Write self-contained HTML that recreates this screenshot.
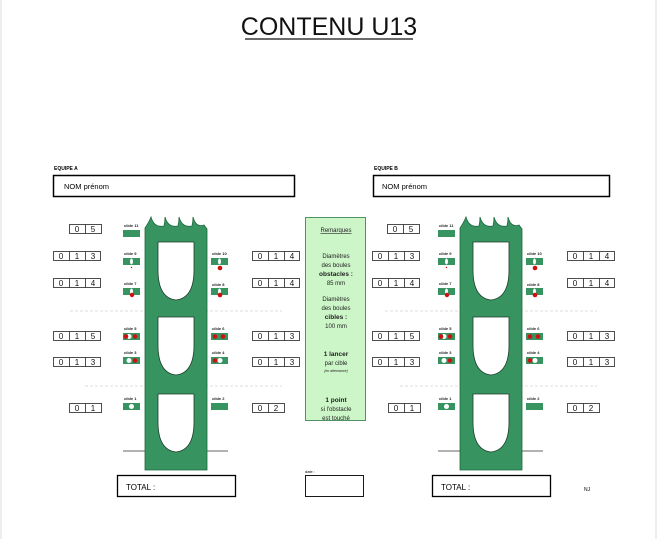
<!DOCTYPE html>
<html><head><meta charset="utf-8"><style>
html,body{margin:0;padding:0;background:#fff;}
svg{display:block;font-family:"Liberation Sans",sans-serif;}
</style></head><body>
<svg width="658" height="539" viewBox="0 0 658 539" xmlns="http://www.w3.org/2000/svg">
<rect x="0" y="0" width="658" height="539" fill="#fff"/>
<line x1="1" y1="0" x2="1" y2="539" stroke="#ddd"/>
<line x1="656" y1="0" x2="656" y2="539" stroke="#ddd"/>
<text x="329" y="35" font-size="25" text-anchor="middle" fill="#111">CONTENU U13</text>
<line x1="245" y1="39" x2="413" y2="39" stroke="#111" stroke-width="1.3"/>

<defs>
<g id="side">
  <line x1="70" y1="311" x2="282" y2="311" stroke="#bbb" stroke-dasharray="3,2" stroke-width="0.6"/>
  <line x1="85" y1="386" x2="282" y2="386" stroke="#bbb" stroke-dasharray="3,2" stroke-width="0.6"/>
  <line x1="123" y1="451" x2="145" y2="451" stroke="#333" stroke-width="0.7"/>
  <line x1="207" y1="451" x2="228" y2="451" stroke="#333" stroke-width="0.7"/>
  <path d="M145,228 Q149,222 151,217 Q154,228 164,226 Q165,222 165,217 Q168,228 178,226 Q179,222 179,217 Q182,228 192,226 Q193,222 193,217 Q196,228 204,225 L207,229 L207,470 L145,470 Z" fill="#379461" stroke="#1d6a3e" stroke-width="0.8"/>
  <path d="M158,242 L194,242 L194,270 Q194,298 176,300 Q158,298 158,270 Z" fill="#fff" stroke="#1d3d2a" stroke-width="0.8"/>
  <path d="M158,317 L194,317 L194,345 Q194,373 176,375 Q158,373 158,345 Z" fill="#fff" stroke="#1d3d2a" stroke-width="0.8"/>
  <path d="M158,394 L194,394 L194,422 Q194,450 176,452 Q158,450 158,422 Z" fill="#fff" stroke="#1d3d2a" stroke-width="0.8"/>
  <g font-size="4" font-weight="bold" fill="#222">
    <text x="124" y="227">cible 11</text>
    <text x="124" y="255">cible 9</text>
    <text x="124" y="285">cible 7</text>
    <text x="124" y="330">cible 5</text>
    <text x="124" y="354">cible 3</text>
    <text x="124" y="400">cible 1</text>
    <text x="212" y="255">cible 10</text>
    <text x="212" y="286">cible 8</text>
    <text x="212" y="330">cible 6</text>
    <text x="212" y="354">cible 4</text>
    <text x="212" y="400">cible 2</text>
  </g>
  <g fill="#379461">
    <rect x="123" y="230" width="17" height="7"/>
    <rect x="123" y="258" width="17" height="7"/>
    <rect x="123" y="288" width="17" height="7"/>
    <rect x="123" y="333" width="17" height="7"/>
    <rect x="123" y="357" width="17" height="7"/>
    <rect x="123" y="403" width="17" height="7"/>
    <rect x="211" y="258" width="17" height="7"/>
    <rect x="211" y="288" width="17" height="7"/>
    <rect x="211" y="333" width="17" height="7"/>
    <rect x="211" y="357" width="17" height="7"/>
    <rect x="211" y="403" width="17" height="7"/>
  </g>
  <g fill="#fff">
    <ellipse cx="131.5" cy="261.5" rx="1.5" ry="3"/>
    <ellipse cx="131.5" cy="291.5" rx="1.5" ry="3"/>
    <ellipse cx="219.5" cy="261.5" rx="1.5" ry="3"/>
    <ellipse cx="219.5" cy="291.5" rx="1.5" ry="3"/>
    <circle cx="129" cy="336.5" r="2.5"/>
    <circle cx="129" cy="360.5" r="2.5"/>
    <circle cx="220" cy="360.5" r="2.5"/>
    <circle cx="131.5" cy="406.5" r="2.5"/>
  </g>
  <g fill="#d01010">
    <circle cx="131.5" cy="267.5" r="0.7"/>
    <circle cx="132" cy="295" r="2.2"/>
    <circle cx="220" cy="268" r="2.3"/>
    <circle cx="220" cy="295" r="2.3"/>
    <circle cx="126" cy="336.5" r="2.3"/>
    <circle cx="135" cy="336.5" r="2.3"/>
    <circle cx="135" cy="360.5" r="2.3"/>
    <circle cx="215" cy="336.5" r="2.3"/>
    <circle cx="223" cy="336.5" r="2.3"/>
    <circle cx="215" cy="360.5" r="2.3"/>
  </g>
  <rect x="117.5" y="475.5" width="118" height="21" fill="#fff" stroke="#000" stroke-width="1.3"/>
  <text x="126" y="490" font-size="8">TOTAL :</text>
</g>
<g id="box2"><rect x="0.5" y="0.5" width="32" height="9" fill="#fff" stroke="#222" stroke-width="0.8"/><line x1="16.5" y1="0.5" x2="16.5" y2="9.5" stroke="#222" stroke-width="0.8"/></g>
<g id="box3"><rect x="0.5" y="0.5" width="47" height="9" fill="#fff" stroke="#222" stroke-width="0.8"/><line x1="16.5" y1="0.5" x2="16.5" y2="9.5" stroke="#222" stroke-width="0.8"/><line x1="32.5" y1="0.5" x2="32.5" y2="9.5" stroke="#222" stroke-width="0.8"/></g>
</defs>

<use href="#side"/>
<g transform="translate(315,0)"><use href="#side"/></g>

<text x="54" y="170" font-size="5" font-weight="bold">EQUIPE A</text>
<rect x="53.5" y="175.5" width="241" height="21" fill="#fff" stroke="#000" stroke-width="1.5"/>
<text x="64" y="189" font-size="7.5">NOM prénom</text>
<text x="374" y="170" font-size="5" font-weight="bold">EQUIPE B</text>
<rect x="373.5" y="175.5" width="236" height="21" fill="#fff" stroke="#000" stroke-width="1.5"/>
<text x="382" y="189" font-size="7.5">NOM prénom</text>

<g font-size="8" fill="#111" text-anchor="middle">
<use href="#box2" x="69" y="224"/><text x="77" y="232">0</text><text x="93" y="232">5</text>
<use href="#box3" x="53" y="251"/><text x="61" y="259">0</text><text x="77" y="259">1</text><text x="93" y="259">3</text>
<use href="#box3" x="53" y="278"/><text x="61" y="286">0</text><text x="77" y="286">1</text><text x="93" y="286">4</text>
<use href="#box3" x="53" y="331"/><text x="61" y="339">0</text><text x="77" y="339">1</text><text x="93" y="339">5</text>
<use href="#box3" x="53" y="357"/><text x="61" y="365">0</text><text x="77" y="365">1</text><text x="93" y="365">3</text>
<use href="#box2" x="69" y="403"/><text x="77" y="411">0</text><text x="93" y="411">1</text>
<use href="#box3" x="252" y="251"/><text x="260" y="259">0</text><text x="276" y="259">1</text><text x="292" y="259">4</text>
<use href="#box3" x="252" y="278"/><text x="260" y="286">0</text><text x="276" y="286">1</text><text x="292" y="286">4</text>
<use href="#box3" x="252" y="331"/><text x="260" y="339">0</text><text x="276" y="339">1</text><text x="292" y="339">3</text>
<use href="#box3" x="252" y="357"/><text x="260" y="365">0</text><text x="276" y="365">1</text><text x="292" y="365">3</text>
<use href="#box2" x="252" y="403"/><text x="260" y="411">0</text><text x="276" y="411">2</text>
<use href="#box2" x="387" y="224"/><text x="395" y="232">0</text><text x="411" y="232">5</text>
<use href="#box3" x="372" y="251"/><text x="380" y="259">0</text><text x="396" y="259">1</text><text x="412" y="259">3</text>
<use href="#box3" x="372" y="278"/><text x="380" y="286">0</text><text x="396" y="286">1</text><text x="412" y="286">4</text>
<use href="#box3" x="372" y="331"/><text x="380" y="339">0</text><text x="396" y="339">1</text><text x="412" y="339">5</text>
<use href="#box3" x="372" y="357"/><text x="380" y="365">0</text><text x="396" y="365">1</text><text x="412" y="365">3</text>
<use href="#box2" x="388" y="403"/><text x="396" y="411">0</text><text x="412" y="411">1</text>
<use href="#box3" x="567" y="251"/><text x="575" y="259">0</text><text x="591" y="259">1</text><text x="607" y="259">4</text>
<use href="#box3" x="567" y="278"/><text x="575" y="286">0</text><text x="591" y="286">1</text><text x="607" y="286">4</text>
<use href="#box3" x="567" y="331"/><text x="575" y="339">0</text><text x="591" y="339">1</text><text x="607" y="339">3</text>
<use href="#box3" x="567" y="357"/><text x="575" y="365">0</text><text x="591" y="365">1</text><text x="607" y="365">3</text>
<use href="#box2" x="567" y="403"/><text x="575" y="411">0</text><text x="591" y="411">2</text>
</g>

<rect x="305.5" y="217.5" width="60" height="203" fill="#ccf5c8" stroke="#2e7a46" stroke-width="0.8"/>
<g font-size="6" text-anchor="middle" fill="#222">
<text x="336" y="232" text-decoration="underline">Remarques</text>
<text x="336" y="258">Diamètres</text>
<text x="336" y="267">des boules</text>
<text x="336" y="276" font-weight="bold" font-size="6.5">obstacles :</text>
<text x="336" y="285">85 mm</text>
<text x="336" y="301">Diamètres</text>
<text x="336" y="310">des boules</text>
<text x="336" y="319" font-weight="bold" font-size="6.5">cibles :</text>
<text x="336" y="328">100 mm</text>
<text x="336" y="356" font-weight="bold" font-size="6.5">1 lancer</text>
<text x="336" y="365">par cible</text>
<text x="336" y="372" font-size="3.5" font-style="italic">(en alternance)</text>
<text x="336" y="402" font-weight="bold" font-size="6.5">1 point</text>
<text x="336" y="411">si l'obstacle</text>
<text x="336" y="420">est touché</text>
</g>
<text x="305" y="473" font-size="4">date :</text>
<rect x="305.5" y="475.5" width="58" height="21" fill="#fff" stroke="#000" stroke-width="0.9"/>
<text x="584" y="491" font-size="5">NJ</text>
</svg>
</body></html>
